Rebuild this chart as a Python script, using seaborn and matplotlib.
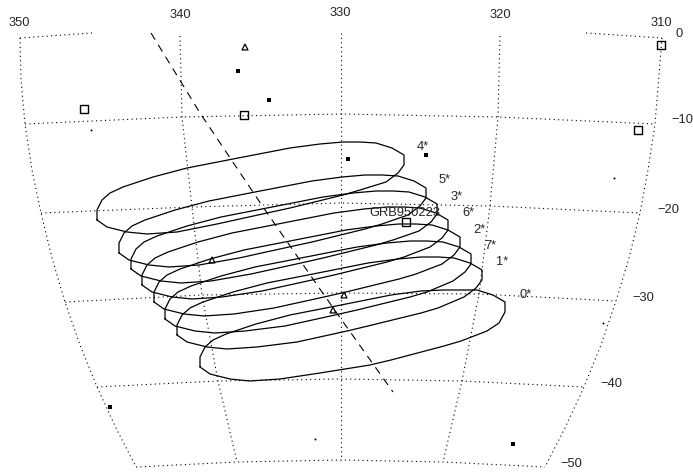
"""Sky map of the GRB950223 error boxes over an RA/Dec graticule."""
import matplotlib; matplotlib.use("Agg")
import pandas as pd
import matplotlib.pyplot as plt
import seaborn as sns

box_x = [
    [200,200,205,213,226,256,290,336,391,421,444,461,477,493,505,505,499,487,461,444,391,370,320,280,250,230,210,200],
    [177,177,182,190,203,233,267,313,368,398,421,438,454,470,482,482,476,464,438,421,368,347,297,257,227,207,187,177],
    [165,165,170,178,191,221,255,301,357,387,410,427,443,459,471,471,465,453,427,410,357,335,285,245,215,195,175,165],
    [154,154,159,167,180,210,244,290,346,376,399,416,432,448,460,460,454,442,416,399,346,324,274,234,204,184,164,154],
    [142,142,147,155,168,198,232,278,334,364,387,404,420,436,448,448,442,430,404,387,334,312,262,222,192,172,152,142],
    [131,131,136,144,157,187,221,267,323,353,376,393,409,425,437,437,431,419,393,376,323,301,251,211,181,161,141,131],
    [119,119,124,132,145,175,209,255,312,342,365,382,398,414,426,426,420,408,382,365,312,289,239,199,169,149,129,119],
    [97,97,102,110,123,153,187,233,290,320,343,360,376,392,404,404,398,386,360,343,290,267,217,177,147,127,107,97],
]
box_y = [
    [367,357,347,340,334,324,315,306,295,291,290,290,290,295,302,312,323,331,341,346,360,365,373,379,381,379,374,367],
    [335,325,315,308,302,292,283,274,263,259,257,257,258,263,270,280,288,297,308,313,326,331,342,347,349,347,342,335],
    [319,309,299,292,286,276,267,258,247,243,241,241,242,247,254,264,272,281,292,297,310,315,326,331,333,331,326,319],
    [302,292,282,275,269,259,250,241,230,226,224,224,225,230,237,247,255,264,274,279,292,297,308,314,316,314,309,302],
    [285,275,265,258,252,242,233,224,213,209,207,207,208,213,220,230,238,247,257,262,275,280,291,297,299,297,292,285],
    [269,259,249,242,236,226,217,208,197,193,191,191,192,197,204,214,222,231,240,245,258,263,274,281,283,281,276,269],
    [253,243,233,226,220,210,201,192,181,177,175,175,176,181,188,198,206,215,224,229,242,247,258,265,267,265,260,253],
    [220,210,200,193,187,177,168,159,148,144,142,142,143,148,155,165,173,182,190,195,208,213,224,232,234,232,227,220],
]

grid_x = [
    [20,21,25,32,41,52,65,80,97,116,136],
    [180,182,192,202,218,237],
    [341,341],
    [500,498,490,479,462,443],
    [662,655,648,640,629,616,601,584,565,545],
    [20,92], [586,662],
    [25,182,341,498,655],
    [41,192,341,490,640],
    [65,202,341,479,616],
    [97,218,341,462,584],
    [136,237,341,443,545],
]
grid_y = [
    [38,80,124,170,213,258,302,345,387,428,467],
    [36,117,207,295,381,462],
    [33,460],
    [36,117,206,294,381,462],
    [38,124,170,213,258,301,345,387,428,467],
    [38,33], [33,38],
    [124,117,114,117,124],
    [213,207,203,206,213],
    [302,295,293,294,301],
    [387,381,379,381,387],
    [467,462,460,462,467],
]

track_x = [151,200,263,322,341,393]
track_y = [33,113,207,292,319,392]

grb_x = [84,244,661,638,406]
grb_y = [109,115,45,130,222]
tri_x = [245,212,344,333]
tri_y = [47,260,295,310]
src_x = [238,269,348,426,110,513]
src_y = [71,100,159,155,407,444]
dot_x = [91,614,315,603]
dot_y = [130,178,439,323]

ra_labels = ["350","340","330","320","310"]
ra_x = [19,180,340,500,661]
ra_y = [23,15,13,15,23]
dec_labels = ["0","\u221210","\u221220","\u221230","\u221240","\u221250"]
dec_x = [676,671,657,632,600,560]
dec_y = [34,120,210,298,384,464]

pt_labels = ["0*","1*","7*","2*","6*","3*","5*","4*"]
pt_x = [519,496,484,473,462,451,439,417]
pt_y = [295,262,246,230,213,197,180,147]


def long_form(xs, ys):
    return pd.DataFrame([{"x": x, "y": y, "line": i, "order": j}
                         for i, (lx, ly) in enumerate(zip(xs, ys))
                         for j, (x, y) in enumerate(zip(lx, ly))])


def main():
    sns.set_style("white")
    plt.rcParams["font.family"] = ["Liberation Sans", "DejaVu Sans"]
    fig = plt.figure(figsize=(6.93, 4.72), dpi=100)
    ax = fig.add_axes([0, 0, 1, 1])

    sns.lineplot(data=long_form(grid_x, grid_y), x="x", y="y", units="line", estimator=None,
                 sort=False, color="k", lw=0.8, linestyle=(0, (1, 3)), ax=ax)
    sns.lineplot(data=long_form(box_x, box_y), x="x", y="y", units="line", estimator=None,
                 sort=False, color="k", lw=0.9, ax=ax)
    sns.lineplot(x=track_x, y=track_y, sort=False, estimator=None, color="k", lw=0.8,
                 linestyle=(0, (7, 5.5)), ax=ax)

    sns.scatterplot(x=grb_x, y=grb_y, marker="s", s=32, facecolor="none", edgecolor="k", linewidth=1.0, ax=ax)
    sns.scatterplot(x=tri_x, y=tri_y, marker="^", s=18, facecolor="none", edgecolor="k", linewidth=0.9, ax=ax)
    sns.scatterplot(x=src_x, y=src_y, marker="s", s=6, color="k", linewidth=0, ax=ax)
    sns.scatterplot(x=dot_x, y=dot_y, marker="o", s=2, color="k", linewidth=0, ax=ax)

    for t, x, y in zip(ra_labels, ra_x, ra_y):
        ax.text(x, y, t, ha="center", va="center", fontsize=9.3)
    for t, x, y in zip(dec_labels, dec_x, dec_y):
        ax.text(x, y, t, ha="left", va="center", fontsize=9.3)
    for t, x, y in zip(pt_labels, pt_x, pt_y):
        ax.text(x, y, t, ha="left", va="center", fontsize=9.3)
    ax.text(405, 213, "GRB950223", ha="center", va="center", fontsize=9.3)

    ax.set_xlim(0, 693); ax.set_ylim(472, 0)
    ax.axis("off")
    fig.savefig("out.png", dpi=100); plt.close(fig)


if __name__ == "__main__":
    main()
